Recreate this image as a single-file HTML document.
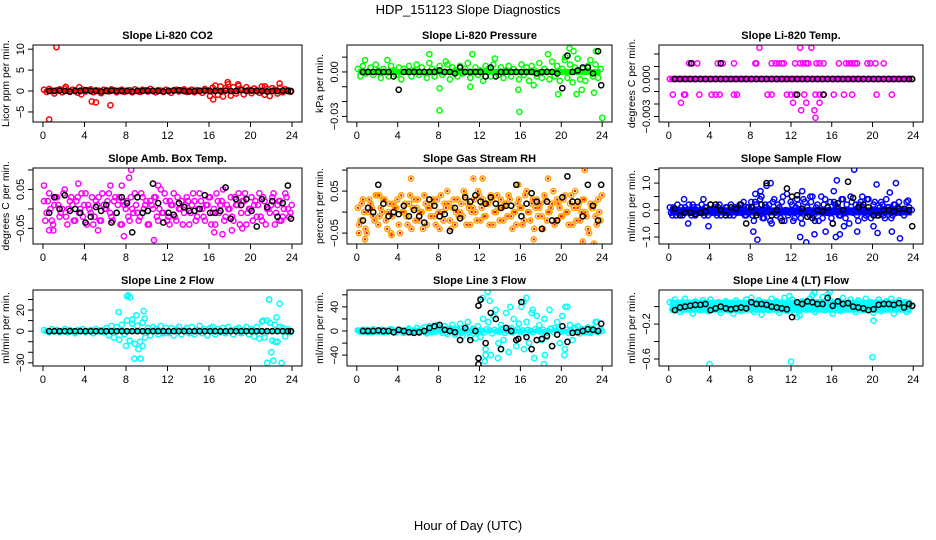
<!DOCTYPE html>
<html><head><meta charset="utf-8"><title>HDP_151123 Slope Diagnostics</title>
<style>
html,body{margin:0;padding:0;background:#fff;}
svg{display:block;font-family:"Liberation Sans",Arial,sans-serif;}
</style></head>
<body>
<svg id="fig" width="936" height="540" viewBox="0 0 936 540" xmlns="http://www.w3.org/2000/svg">
<rect x="0" y="0" width="936" height="540" fill="#fff"/>
<text x="468" y="14" text-anchor="middle" font-size="13">HDP_151123  Slope Diagnostics</text>
<text x="468" y="530" text-anchor="middle" font-size="13">Hour of Day (UTC)</text>
</svg>
<script>
const hoursC=[0.1,0.35,0.6,0.85,1.1,1.35,1.6,1.85,2.1,2.35,2.6,2.85,3.1,3.35,3.6,3.85,4.1,4.35,4.6,4.85,5.1,5.35,5.6,5.85,6.1,6.35,6.6,6.85,7.1,7.35,7.6,7.85,8.1,8.35,8.6,8.85,9.1,9.35,9.6,9.85,10.1,10.35,10.6,10.85,11.1,11.35,11.6,11.85,12.1,12.35,12.6,12.85,13.1,13.35,13.6,13.85,14.1,14.35,14.6,14.85,15.1,15.35,15.6,15.85,16.1,16.35,16.6,16.85,17.1,17.35,17.6,17.85,18.1,18.35,18.6,18.85,19.1,19.35,19.6,19.85,20.1,20.35,20.6,20.85,21.1,21.35,21.6,21.85,22.1,22.35,22.6,22.85,23.1,23.35,23.6,23.85];
const hoursK=[0.6,1.1,1.6,2.1,2.6,3.1,3.6,4.1,4.6,5.1,5.6,6.1,6.6,7.1,7.6,8.1,8.6,9.1,9.6,10.1,10.6,11.1,11.6,12.1,12.6,13.1,13.6,14.1,14.6,15.1,15.6,16.1,16.6,17.1,17.6,18.1,18.6,19.1,19.6,20.1,20.6,21.1,21.6,22.1,22.6,23.1,23.6,23.9];
const xTicks=[0,4,8,12,16,20,24];

// Panel 1: CO2 (ppm/min)
const co2A=[0.3,-0.2,0.5,0.1,-0.6,0.2,0.4,-0.3,0.6,0.1,-0.2,0.3,0.2,-0.4,0.1,0.3,-0.1,0.2,0.4,-0.3,0.2,0.1,-0.5,0.3,0.2,-0.1,0.4,0.2,-0.3,0.1,0.3,-0.2,0.1,0.2,-0.3,0.4,0.1,-0.2,0.3,0.2,-0.1,0.5,0.1,-0.3,0.2,0.1,-0.2,0.3,0.1,-0.4,0.2,0.3,-0.1,0.2,0.4,-0.2,0.1,0.3,-0.3,0.2,0.1,-0.4,0.5,0.2,-1.2,0.8,1.3,-0.9,1.1,-1.3,0.7,1.6,-1.1,0.9,-0.6,1.2,0.4,-0.8,0.9,0.3,-0.5,0.6,0.2,-0.4,1.1,-0.9,0.5,-1.2,0.7,0.3,-0.6,0.8,-0.3,0.4,0.2,-0.2];
const co2OutH=[0.6,1.3,2.2,3.5,3.7,4.7,5.1,6.5,16.4,17.8,18.8,22.8,21.4];
const co2OutV=[-6.8,10.5,1.0,0.9,-0.8,-2.5,-2.7,-3.4,-2.0,2.1,1.6,1.8,1.1];
const co2K=[0,0,0.1,0,-0.1,0,0,0.2,0,0,-0.1,0,0.1,0,0,0,-0.1,0,0,0.1,0,0,-0.1,0,0.1,0.2,0,-0.1,0,0,0.1,0,0,0,0.1,0,0,0.2,0,0.1,0,0,-0.1,0,0,0.1,0,0];
const co2Ticks=[-5,0,5,10];
const co2TickLabels=["\u22125","0","5","10"];

// Panel 2: Pressure (units of 0.001 kPa/min)
const presA=[2,-3,4,-1,0,3,-2,5,1,-4,2,0,-3,4,1,-2,3,-5,2,0,4,-3,1,5,-2,3,0,-4,6,2,-3,1,4,-2,0,5,-5,3,1,-3,4,-1,2,6,-4,0,3,-2,1,-6,4,2,-3,5,0,-2,3,-4,1,4,-3,2,0,-5,5,-2,3,-6,4,1,-3,6,-4,2,0,-5,7,-3,4,-6,2,8,-4,5,-7,3,9,-5,2,-6,4,8,-3,5,-4,2];
const presOutH=[0.8,3.0,7.1,8.1,8.7,11.3,13.5,15.9,18.7,20.8,21.2,23.4,24.0,15.8,17.3,19.7,21.5,23.2,11.1,8.1,20.4,22.0];
const presOutV=[8,8,12,-26,7,12,9,-27,12,16,14,14,-31,-12,-9,-15,-15,-14,-10,-11,10,-12];
const presK=[0,0,0,0,0,0,-3,-12,0,0,0,0,0,0,0,1,0,0,-1,3,0,0,0,0,-3,3,-3,0,0,0,0,0,0,0,-1,0,0,0,-1,-11,11,0,1,3,3,-1,14,-9];
const presTicks=[-30,-20,-10,0,10];
const presTickLabels=["\u22120.03","","","0.00",""];

// Panel 3: Li-820 temp (units of 0.001 C/min)
const tempA=[0,0,0,0,0,0,0,0,0,0,0,0,0,0,0,0,0,0,0,0,0,0,0,0,0,0,0,0,0,0,0,0,0,0,0,0,0,0,0,0,0,0,0,0,0,0,0,0,0,0,0,0,0,0,0,0,0,0,0,0,0,0,0,0,0,0,0,0,0,0,0,0,0,0,0,0,0,0,0,0,0,0,0,0,0,0,0,0,0,0,0,0,0,0,0,0];
const tempOutH=[2.0,2.3,2.8,4.8,5.1,5.3,6.4,8.5,8.6,10.1,10.5,10.8,11.1,11.3,12.4,12.9,13.2,13.5,13.7,14.5,14.8,15.2,16.7,17.4,17.7,18.0,18.3,18.5,19.5,19.8,20.3,21.1,8.9,12.9,14.0,0.4,1.5,1.6,3.0,4.2,4.6,5.0,6.4,6.7,9.7,10.1,11.6,12.0,12.4,13.3,14.4,14.8,15.2,16.2,17.2,18.0,20.4,21.9,1.2,12.2,13.5,14.8,13.0,14.3,14.4];
const tempOutV=[1.25,1.25,1.25,1.25,1.25,1.25,1.25,1.25,1.25,1.25,1.25,1.25,1.25,1.25,1.25,1.25,1.25,1.25,1.25,1.25,1.25,1.25,1.25,1.25,1.25,1.25,1.25,1.25,1.25,1.25,1.25,1.25,2.5,2.5,2.5,-1.25,-1.25,-1.25,-1.25,-1.25,-1.25,-1.25,-1.25,-1.25,-1.25,-1.25,-1.25,-1.25,-1.25,-1.25,-1.25,-1.25,-1.25,-1.25,-1.25,-1.25,-1.25,-1.25,-1.9,-1.9,-1.9,-1.9,-2.5,-2.5,-3.1];
const tempK=[0,0,0,0,0,0,0,0,0,0,0,0,0,0,0,0,0,0,0,0,0,0,0,0,0,0,0,0,0,0,0,0,0,0,0,0,0,0,0,0,0,0,0,0,0,0,0,0];
const tempKExH=[2.2,5.1,12.6,15.2];
const tempKExV=[1.25,1.25,-1.25,-1.25];
const tempTicks=[-3,-2,-1,0,1,2];
const tempTickLabels=["\u22120.003","","","0.000","",""];

// Panel 4: Amb box temp (units of 0.01 C/min)
const ambA=[2,-1,4,-3,1,3,-2,0,5,-4,2,1,-3,3,0,-2,4,1,-1,-4,2,3,-3,1,0,4,-2,2,-1,3,-4,1,2,-3,0,4,-1,-2,3,1,-4,2,0,3,-3,5,-1,2,-2,1,4,-3,0,2,-1,3,-4,1,2,-2,4,0,-3,1,3,-1,-4,2,1,5,-2,0,3,-3,1,4,-1,2,-4,0,3,1,-2,4,-3,2,0,-1,3,-4,1,2,-2,4,0,-1];
const ambB=[-3,2,0,-4,3,1,-1,4,-2,0,3,-3,2,-1,4,1,-4,0,3,-2,1,-3,4,0,2,-1,-3,3,1,-4,2,0,-2,3,-1,1,-3,4,0,2,-4,1,3,-2,0,-1,4,-3,2,1,-2,3,0,-4,1,2,-1,4,-3,0,2,-2,1,3,-4,0,4,-1,2,-3,1,0,-2,3,1,-4,2,4,-1,0,-3,2,1,-2,3,-4,0,1,4,-1,2,-3,0,3,-2,1];
const ambOutH=[0.1,0.6,1.0,3.4,5.3,7.6,8.3,8.5,7.8,10.7,11.1,17.3,18.2,19.2,22.8,12.2,16.5,6.5];
const ambOutV=[6,-5.5,-5.5,6.5,-5.5,6,8,10,-7,-8,6,-6.5,-5.5,-5,-3,-4,-6,6];
const ambK=[-1,3,0,3.5,-0.5,0,-1,-3.5,-2,0.5,-0.5,1,-3.5,-1,3,1.5,-6,3,-1,-0.5,6.5,1.5,-3.5,-1,-1.5,1.5,0.5,-0.5,-0.5,0,3.5,-1,-1,-0.5,5.5,-2.5,2.5,1,2.5,-0.5,-4.5,2.5,0.5,2,-2,1.5,6,-2.5];
const ambTicks=[-5,0,5,10];
const ambTickLabels=["\u22120.05","","0.05",""];

// Panel 5: Gas stream RH (units of 0.01 %/min)
const rhA=[1,-2,3,-4,0,2,-1,4,-3,1,3,-2,0,-5,2,1,-3,4,0,-1,2,-4,3,1,-2,0,4,-3,1,2,-1,3,-4,0,2,5,-2,1,-3,3,0,-1,4,2,-3,1,0,5,-2,3,-1,2,4,-3,0,1,3,-2,2,4,-1,0,-3,3,1,-2,5,0,2,-4,3,1,-1,4,-2,0,2,-3,3,1,-1,4,0,2,-3,5,1,-2,3,0,-4,2,1,-1,3,-2];
const rhB=[-3,2,0,-5,3,1,-2,4,-1,0,3,-4,2,-1,1,3,-5,0,2,-3,4,1,-2,3,0,-4,2,1,-1,3,-3,0,4,-2,1,2,-4,3,0,-1,2,5,-3,1,0,3,-2,4,1,-1,2,-3,3,0,4,-2,1,2,-1,3,-4,0,2,1,-3,4,0,-2,3,1,-1,2,-4,3,0,1,5,-2,2,-1,3,0,-3,4,1,-2,2,0,3,-1,-5,1,2,-3,0,4];
const rhOutH=[2.2,0.8,5.3,11.4,12.3,15.8,18.7,22.3,22.1,23.2,17.3,0.2,3.4];
const rhOutV=[4,-6.5,8,8,8,6.5,8,10,-7,-7.5,-6.5,-5,-5.5];
const rhK=[-2,1,0,6.5,2,-1,0,-0.5,1.5,-1,0.5,-1,-2.5,3,1.5,-1,-0.5,-4.5,1,-1.5,3.5,2.5,4,2.5,2,3.5,2,1,1.5,1.5,6.5,-1,2,4.5,2.5,-4,2.5,-2,-2,3.5,8.5,2.5,2.5,-1,6.5,1.5,-2,6.5];
const rhTicks=[-5,0,5,10];
const rhTickLabels=["\u22120.05","","0.05",""];

// Panel 6: Sample flow (ml/min per min)
const smpA=[0.1,-0.2,0.0,0.2,-0.1,-0.2,0.1,0.0,-0.1,0.2,-0.2,0.1,0.0,-0.1,0.1,-0.2,0.2,0.0,-0.1,0.1,-0.2,0.0,0.1,-0.1,0.2,-0.2,0.0,0.1,-0.1,0.3,-0.2,0.1,0.3,-0.4,0.2,-0.1,0.5,-0.3,0.1,0.2,-0.5,0.4,-0.2,0.1,0.3,-0.4,0.6,-0.1,0.2,-0.3,0.4,0.0,-0.5,0.3,0.1,-0.2,0.5,-0.4,0.2,0.0,-0.3,0.4,-0.1,0.3,-0.5,0.2,0.1,-0.2,0.4,-0.3,0.0,0.5,-0.1,0.2,-0.4,0.3,0.1,-0.2,0.4,-0.3,0.2,0.0,-0.1,0.3,-0.2,0.4,0.1,-0.3,0.2,-0.1,0.3,0.0,-0.2,0.3,0.1,0.0];
const smpB=[-0.1,0.1,-0.2,0.0,0.1,-0.1,0.0,0.2,-0.2,0.1,0.0,-0.1,0.2,-0.2,0.1,0.0,-0.1,0.1,-0.2,0.2,0.0,-0.1,0.1,-0.2,0.0,0.1,-0.1,0.2,0.0,-0.2,0.1,0.0,-0.2,0.3,-0.1,0.4,-0.3,0.2,0.0,-0.4,0.3,-0.1,0.2,-0.3,0.5,0.0,-0.2,0.3,-0.4,0.1,0.2,-0.3,0.4,-0.1,0.0,0.3,-0.2,0.1,-0.4,0.5,0.2,-0.1,0.0,-0.3,0.3,0.1,-0.2,0.4,-0.1,0.2,-0.5,0.3,0.0,-0.2,0.2,0.1,-0.3,0.4,-0.1,0.0,0.3,-0.2,0.1,0.2,-0.3,0.1,0.0,-0.2,0.2,0.1,-0.1,0.0];
const smpOutH=[1.5,1.9,3.4,3.9,8.3,8.5,8.7,9.0,9.6,10.0,12.9,13.1,13.5,13.9,14.3,15.4,16.2,16.4,16.5,16.8,17.2,18.2,18.5,19.0,20.4,20.1,20.5,21.7,21.9,22.3,22.7,23.5];
const smpOutV=[0.4,-0.5,0.4,-0.6,-0.8,0.6,-1.1,0.7,0.9,1.0,-1.0,0.7,-1.2,0.5,-0.9,-0.8,0.7,-1.0,1.1,-0.9,-0.6,1.5,-0.8,0.5,0.95,-0.6,-0.85,0.65,-0.8,1.0,-1.05,0.35];
const smpK=[0.05,-0.2,-0.1,-0.1,-0.15,-0.1,-0.05,0.2,0.2,0.0,-0.2,0.1,0.05,0.2,-0.5,0.1,-0.2,0.2,1.0,-0.2,0.0,-0.4,0.8,0.5,0.55,0.05,-0.25,-0.3,0.0,-0.05,0.1,-0.5,0.25,0.0,1.05,0.45,0.1,0.2,0.1,-0.2,-0.2,0.0,0.0,-0.05,0.05,0.05,0.0,-0.6];
const smpTicks=[-1,-0.5,0,0.5,1,1.5];
const smpTickLabels=["\u22121.0","","0.0","","1.0",""];

// Panel 7: Line 2 flow
const l2A=[1,0,-1,2,0,1,-1,0,2,-1,1,0,-2,1,0,2,-1,0,1,-2,2,0,1,-1,3,-4,5,-6,4,-8,6,-3,10,-9,7,-12,5,-10,8,-6,3,-4,4,2,-3,5,-2,3,-2,3,-4,2,4,-3,1,3,-2,4,-3,1,5,-2,2,-4,3,4,-3,2,-1,3,-2,4,1,-3,2,3,-2,1,4,-3,2,-5,4,-7,9,-6,10,8,-9,6,-10,4,3,-5,2,-1];
const l2OutH=[7.3,8.0,8.2,8.4,8.6,8.8,9.0,9.2,9.4,9.6,9.7,9.8,8.1,21.6,21.8,22.0,22.2,22.5,22.8,23.0,22.4,21.2];
const l2OutV=[18,-14,34,32,11,-26,15,-17,-26,-14,19,12,33,-30,30,-20,-28,13,26,-30,-10,10];
const l2K=[0,0,0,0,0,0,0,0,0,0,0,0,0,0,0,0,0,0,0,0,0,0,0,0,0,0,0,0,0,0,0,0,0,0,0,0,0,0,0,0,0,0,0,0,0,0,0,0];
const l2Ticks=[-30,-20,-10,0,10,20,30];
const l2TickLabels=["\u221230","","","0","","20",""];

// Panel 8: Line 3 flow
const l3A=[1,-1,2,0,-2,1,3,-1,0,2,-2,1,-1,3,0,-2,2,1,-3,0,4,-2,1,5,-3,2,6,-4,8,-2,5,10,6,-3,8,-5,4,10,-6,3,12,-8,5,15,-10,4,-12,8,-10,20,-30,15,-40,25,35,-20,10,-15,30,-35,5,20,-25,12,40,-30,15,-20,30,-45,25,10,-15,20,-10,35,-25,5,15,-20,25,-30,40,10,-15,5,8,-4,3,-2,6,-3,4,15,-2,3];
const l3B=[0,1,-1,2,0,-2,1,0,-1,2,1,-1,0,2,-2,1,0,-1,1,2,-2,0,1,-1,2,0,-2,1,3,0,-1,2,0,3,-2,1,4,-1,2,0,-3,1,2,-2,0,3,-1,1,0,-2,3,1,-4,2,0,-1,4,-3,1,2,-2,0,3,-1,1,-4,2,0,-2,3,1,-1,2,-3,0,4,-2,1,3,-1,0,2,-3,1,4,-2,0,1,-1,3,-2,0,2,-1,1,0];
const l3OutH=[12.3,12.8,13.0,15.0,16.3,16.6,18.3,18.4,17.2,20.4,20.3,14.1,13.8,12.5,12.6,23.5];
const l3OutV=[55,65,50,40,48,55,-55,-40,35,40,-40,-30,-45,-50,-40,15];
const l3K=[0,0,0,1,0,0,-2,2,0,-2,-3,-2,0,5,8,10,2,0,-2,-15,5,-15,0,52,-20,30,20,-30,5,0,-15,48,-10,-30,-15,-13,-8,-25,-6,8,-18,-3,-2,0,3,2,0,12];
const l3KExH=[11.9,11.9,11.9,15.8];
const l3KExV=[42,-45,-55,-13];
const l3Ticks=[-40,-20,0,20,40,60];
const l3TickLabels=["\u221240","","0","","40",""];

// Panel 9: Line 4 (LT) flow
const l4A=[0.05,-0.03,0.08,0.0,-0.06,0.04,0.09,-0.02,0.03,-0.08,0.06,0.01,-0.04,0.07,0.02,-0.05,0.08,-0.03,0.0,0.05,-0.07,0.03,0.06,-0.04,0.02,-0.08,0.07,0.0,-0.05,0.04,0.08,-0.02,0.1,-0.06,0.03,0.07,-0.09,0.05,0.0,-0.04,0.09,-0.02,0.06,-0.07,0.03,0.1,-0.05,0.12,0.08,-0.08,0.04,-0.1,0.06,0.02,-0.03,0.09,0.13,-0.06,0.05,0.0,0.11,-0.04,0.14,0.07,-0.08,0.03,0.06,-0.05,0.1,0.0,-0.03,0.08,0.04,-0.06,0.07,0.02,-0.04,0.09,-0.02,0.05,-0.07,0.03,0.08,-0.05,0.01,0.06,-0.03,0.09,-0.08,0.04,0.07,-0.02,0.05,-0.06,0.03,0.0];
const l4OutH=[4.0,12.0,20.0,20.1,12.6,15.8,14.3];
const l4OutV=[-0.66,-0.63,-0.58,-0.16,-0.12,0.17,0.16];
const l4K=[-0.04,-0.01,0.0,0.01,0.02,0.02,0.03,-0.04,-0.02,0.0,-0.02,-0.03,-0.02,-0.01,-0.02,0.05,0.03,0.03,0.02,0.0,-0.01,-0.02,-0.03,-0.12,0.05,0.03,0.06,0.05,0.03,0.03,0.1,0.01,0.06,0.03,0.04,0.0,-0.01,-0.02,-0.04,-0.03,0.02,0.03,0.03,0.02,0.04,-0.01,0.03,0.01];
const l4Ticks=[-0.6,-0.4,-0.2,0];
const l4TickLabels=["\u22120.6","","\u22120.2",""];

const NS="http://www.w3.org/2000/svg";
const svg=document.getElementById('fig');
function mk(tag,attrs,parent){const e=document.createElementNS(NS,tag);for(const k in attrs)e.setAttribute(k,attrs[k]);(parent||svg).appendChild(e);return e;}

const cols=[[33,302],[347,612],[659,923]];
const rows=[[45,122],[168,244],[290,366]];

const panels=[
 {name:'co2',title:'Slope Li-820 CO2',ylab:'Licor ppm per min.',r:0,c:0,dom:[-7.4,11.0],col:'#ff0000',inner:null,core:[-0.4,0.4],series:[co2A],outH:co2OutH,outV:co2OutV,k:co2K,kExH:[],kExV:[],ticks:co2Ticks,labels:co2TickLabels},
 {name:'pressure',title:'Slope Li-820 Pressure',ylab:'kPa per min.',r:0,c:1,dom:[-33.8,18.2],col:'#00ff00',inner:null,core:[-2,2],series:[presA],outH:presOutH,outV:presOutV,k:presK,kExH:[],kExV:[],ticks:presTicks,labels:presTickLabels},
 {name:'li820-temp',title:'Slope Li-820 Temp.',ylab:'degrees C per min.',r:0,c:2,dom:[-3.44,2.72],col:'#ff00ff',inner:null,core:[-0.2,0.2],series:[tempA],outH:tempOutH,outV:tempOutV,k:tempK,kExH:tempKExH,kExV:tempKExV,ticks:tempTicks,labels:tempTickLabels},
 {name:'amb-box-temp',title:'Slope Amb. Box Temp.',ylab:'degrees C per min.',r:1,c:0,dom:[-9.0,10.5],col:'#ff00ff',inner:null,core:null,series:[ambA,ambB],outH:ambOutH,outV:ambOutV,k:ambK,kExH:[],kExV:[],ticks:ambTicks,labels:ambTickLabels},
 {name:'gas-stream-rh',title:'Slope Gas Stream RH',ylab:'percent per min.',r:1,c:1,dom:[-7.6,10.5],col:'#ffa500',inner:'#ff0000',core:null,series:[rhA,rhB],outH:rhOutH,outV:rhOutV,k:rhK,kExH:[],kExV:[],ticks:rhTicks,labels:rhTickLabels},
 {name:'sample-flow',title:'Slope Sample Flow',ylab:'ml/min per min.',r:1,c:2,dom:[-1.26,1.56],col:'#0000ff',inner:null,core:[-0.2,0.1],series:[smpA,smpB],outH:smpOutH,outV:smpOutV,k:smpK,kExH:[],kExV:[],ticks:smpTicks,labels:smpTickLabels},
 {name:'line2-flow',title:'Slope Line 2 Flow',ylab:'ml/min per min.',r:2,c:0,dom:[-33,39],col:'#00ffff',inner:null,core:[-2,2],series:[l2A],outH:l2OutH,outV:l2OutV,k:l2K,kExH:[],kExV:[],ticks:l2Ticks,labels:l2TickLabels},
 {name:'line3-flow',title:'Slope Line 3 Flow',ylab:'ml/min per min.',r:2,c:1,dom:[-58,68],col:'#00ffff',inner:null,core:[-3,3],series:[l3A,l3B],outH:l3OutH,outV:l3OutV,k:l3K,kExH:l3KExH,kExV:l3KExV,ticks:l3Ticks,labels:l3TickLabels},
 {name:'line4-flow',title:'Slope Line 4 (LT) Flow',ylab:'ml/min per min.',r:2,c:2,dom:[-0.68,0.19],col:'#00ffff',inner:null,core:[-0.07,0.08],series:[l4A],outH:l4OutH,outV:l4OutV,k:l4K,kExH:[],kExV:[],ticks:l4Ticks,labels:l4TickLabels}
];

panels.forEach(p=>{
  const L=cols[p.c][0],R=cols[p.c][1],T=rows[p.r][0],B=rows[p.r][1];
  const xs=h=>L+(h+0.96)/25.92*(R-L);
  const ys=v=>T+(p.dom[1]-v)/(p.dom[1]-p.dom[0])*(B-T);
  const g=mk('g',{});
  
  
  const clipId='clip-'+p.name;
  const cp=mk('clipPath',{id:clipId},g);
  mk('rect',{x:L,y:T,width:R-L,height:B-T},cp);
  const t=mk('text',{x:(L+R)/2,y:T-6,'text-anchor':'middle','font-size':'11','font-weight':'bold'},g);
  t.textContent=p.title;
  
  
  const yl=mk('text',{x:L-24,y:(T+B)/2,'text-anchor':'middle','font-size':'10.5',transform:'rotate(-90 '+(L-24)+' '+((T+B)/2)+')'},g);
  yl.textContent=p.ylab;
  
  
  // marks
  const m=mk('g',{'clip-path':'url(#'+clipId+')'},g);
  
  
  if(p.core){
    const cr=mk('rect',{x:xs(hoursC[0]),y:ys(p.core[1]),width:xs(hoursC[hoursC.length-1])-xs(hoursC[0]),height:ys(p.core[0])-ys(p.core[1]),fill:p.col},m);
    
    
  }
  const pt=(h,v,color,inner)=>{
    const c=mk('circle',{cx:xs(h),cy:ys(v),r:2.6,fill:'none',stroke:color,'stroke-width':1.5},m);
    
    
    if(inner){const d=mk('rect',{x:xs(h)-1,y:ys(v)-1,width:2,height:2,fill:inner},m);
      
      }
  };
  p.series.forEach((s,si)=>{
    for(let i=0;i<s.length&&i<hoursC.length;i++) pt(hoursC[i]+si*0.12,s[i],p.col,p.inner);
  });
  for(let i=0;i<p.outH.length;i++) pt(p.outH[i],p.outV[i],p.col,p.inner);
  for(let i=0;i<p.k.length&&i<hoursK.length;i++) pt(hoursK[i],p.k[i],'#000',null);
  for(let i=0;i<p.kExH.length;i++) pt(p.kExH[i],p.kExV[i],'#000',null);
  // box
  const bx=mk('rect',{x:L,y:T,width:R-L,height:B-T,fill:'none',stroke:'#000','stroke-width':1},g);
  
  
  // x axis
  xTicks.forEach(h=>{
    mk('line',{x1:xs(h),x2:xs(h),y1:B,y2:B+5,stroke:'#000'},g);
    const tl=mk('text',{x:xs(h),y:B+17,'text-anchor':'middle','font-size':'11'},g);
    tl.textContent=String(h);
    
    
  });
  // y axis
  p.ticks.forEach((v,i)=>{
    const y=ys(v);
    mk('line',{x1:L-5,x2:L,y1:y,y2:y,stroke:'#000'},g);
    if(p.labels[i]){
      const tl=mk('text',{x:L-9,y:y,'text-anchor':'middle','font-size':'11',transform:'rotate(-90 '+(L-9)+' '+y+')'},g);
      tl.textContent=p.labels[i];
      
      
    }
  });
});
</script>
</body></html>
